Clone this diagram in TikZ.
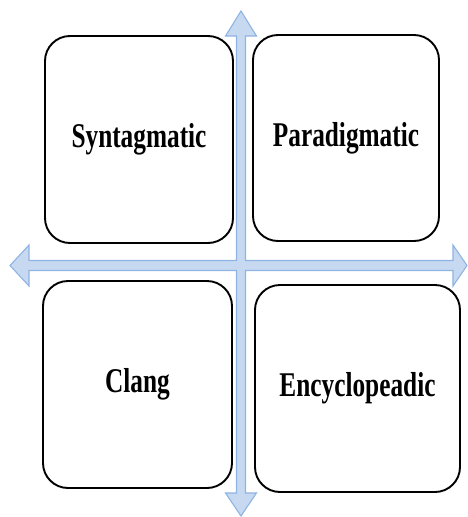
\documentclass[tikz,border=0pt]{standalone}
\usepackage{fontspec}
\setmainfont{Liberation Serif}
\definecolor{axfill}{RGB}{198,217,240}
\definecolor{axline}{RGB}{143,180,227}
\newcommand{\tall}[1]{\scalebox{1}[1.37]{#1}}
\begin{document}
\begin{tikzpicture}[x=1pt,y=-1pt,
  quad/.style={draw=black, line width=1.9pt, rounded corners=25pt, fill=white,
    font=\fontsize{25.3}{30}\selectfont\bfseries, inner sep=0pt},
  axes/.style={fill=axfill, draw=axline, line width=1.1pt, line join=miter}]
\useasboundingbox (0,0) rectangle (467,517);
% axes cross (double arrows)
\coordinate (top) at (241,11);
\coordinate (bottom) at (241,516);
\coordinate (left) at (10,265.5);
\coordinate (right) at (467,265.5);
\draw[axes] (top) -- (256.5,36) -- (245.5,36) -- (245.5,260.5) -- (453,260.5) -- (453,245)
  -- (right) -- (453,286) -- (453,270.5) -- (245.5,270.5) -- (245.5,493) -- (256.5,493)
  -- (bottom) -- (225.5,493) -- (236.5,493) -- (236.5,270.5) -- (29,270.5) -- (29,286)
  -- (left) -- (29,245) -- (29,260.5) -- (236.5,260.5) -- (236.5,36) -- (225.5,36) -- cycle;
% quadrants
\node[quad, minimum width=188pt, minimum height=207pt] (syn) at (139,139.5) {\tall{Syntagmatic}};
\node[quad, minimum width=186pt, minimum height=206pt] (par) at (346,138) {\tall{Paradigmatic}};
\node[quad, minimum width=189pt, minimum height=207pt] (cla) at (137.5,384.5) {\tall{Clang}};
\node[quad, minimum width=205pt, minimum height=207pt] (enc) at (357.5,388.5) {\tall{Encyclopeadic}};
\end{tikzpicture}
\end{document}
